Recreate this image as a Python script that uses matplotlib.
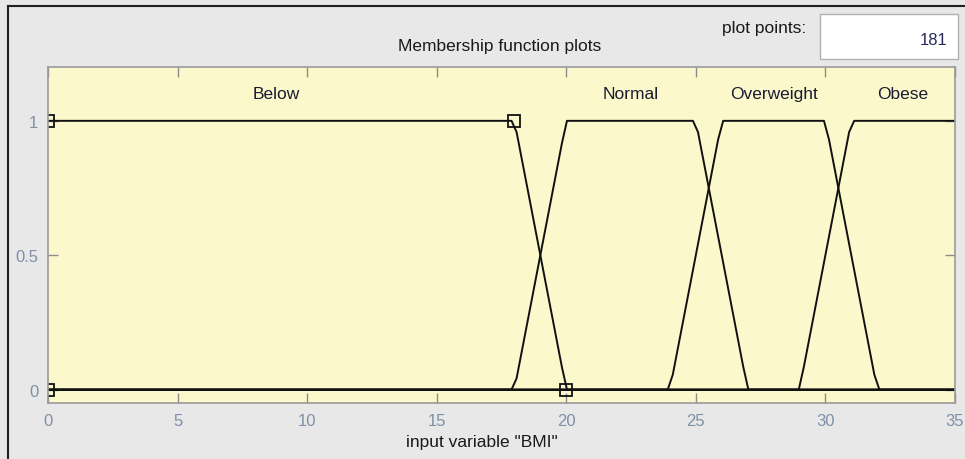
import numpy as np
import matplotlib
matplotlib.use('Agg')
import matplotlib.pyplot as plt
from matplotlib.patches import Rectangle
from matplotlib.lines import Line2D

plt.rcParams['font.family'] = ['Liberation Sans', 'DejaVu Sans']

# Membership functions of input variable "BMI" (trapezoid parameters a, b, c, d)
mf_names = ['Below', 'Normal', 'Overweight', 'Obese']
mf_params = [
    [0, 0, 18, 20],
    [18, 20, 25, 27],
    [24, 26, 30, 32],
    [29, 31, 35, 35],
]
# where the MF names sit on the x axis
label_x = [8.8, 22.5, 28.0, 33.0]
label_y = 1.1

x_range = [0, 35]
n_points = 181
x_ticks = [0, 5, 10, 15, 20, 25, 30, 35]
y_ticks = [0, 0.5, 1]
y_tick_labels = ['0', '0.5', '1']

# the selected MF (Below) shows its parameters as square handles
handle_x = [0, 0, 18, 20]
handle_y = [0, 1, 1, 0]


def trapmf(x, p):
    a, b, c, d = p
    y = np.ones_like(x)
    if b > a:
        y = np.minimum(y, (x - a) / (b - a))
    else:
        y = np.where(x < a, 0.0, y)
    if d > c:
        y = np.minimum(y, (d - x) / (d - c))
    else:
        y = np.where(x > d, 0.0, y)
    return np.clip(y, 0, 1)


x = np.linspace(x_range[0], x_range[1], n_points)

fig = plt.figure(figsize=(9.65, 4.6), dpi=100)
fig.patch.set_facecolor('#e8e8e8')

ax = fig.add_axes([0.0497, 0.1217, 0.9399, 0.7303])
ax.set_facecolor('#fbf8cc')

for p in mf_params:
    ax.plot(x, trapmf(x, p), color='#111111', linewidth=1.4)

# baseline at zero
ax.plot(x_range, [0, 0], color='#111111', linewidth=1.4)

ax.plot(handle_x, handle_y, linestyle='none', marker='s', markersize=8.5,
        markerfacecolor='none', markeredgecolor='#111111', markeredgewidth=1.3)

for name, lx in zip(mf_names, label_x):
    ax.text(lx, label_y, name, ha='center', va='center', fontsize=12.5,
            color='#1a1a30')

ax.set_xlim(x_range)
ax.set_ylim(-0.05, 1.2)
ax.set_xticks(x_ticks)
ax.set_yticks(y_ticks)
ax.set_yticklabels(y_tick_labels)
ax.tick_params(direction='in', length=7, width=1, color='#8c8c8c',
               labelcolor='#8090a8', labelsize=12, top=True, right=True,
               pad=7)
for s in ax.spines.values():
    s.set_color('#9a9a9a')
    s.set_linewidth(1.2)

ax.text(0.478, -0.116, 'input variable "BMI"', transform=ax.transAxes,
        ha='center', va='center', fontsize=12.5, color='#1a1a1a')

fig.text(0.518, 0.9, 'Membership function plots', ha='center', va='center',
         fontsize=12.5, color='#1a1a1a')

# "plot points" control
fig.text(0.792, 0.938, 'plot points:', ha='center', va='center', fontsize=12.5,
         color='#1a1a1a')
fig.patches.append(Rectangle((0.85, 0.87), 0.143, 0.098, transform=fig.transFigure,
                             facecolor='white', edgecolor='#b0b0b0', linewidth=1))
fig.text(0.982, 0.912, str(n_points), ha='right', va='center', fontsize=12,
         color='#2a2a5a')

# outer frame of the panel
fig.add_artist(Line2D([0.0085, 0.0085], [0.0, 0.985], transform=fig.transFigure,
                      color='#202020', linewidth=1.5))
fig.add_artist(Line2D([0.0085, 1.0], [0.985, 0.985], transform=fig.transFigure,
                      color='#202020', linewidth=1.5))

fig.savefig('out.png', dpi=100, facecolor=fig.get_facecolor())
